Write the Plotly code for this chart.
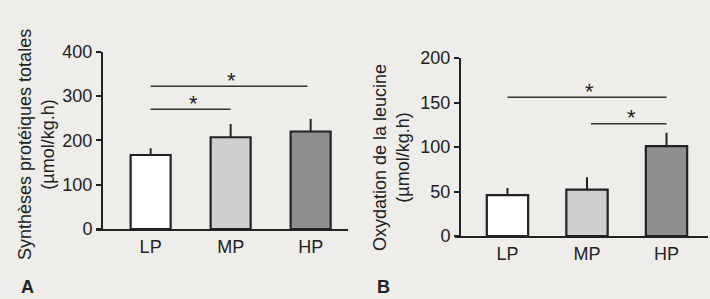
import plotly.graph_objects as go

# ---- data ----
categories = ["LP", "MP", "HP"]
synth_values = [167, 207, 220]          # Synthèses protéiques totales (µmol/kg.h)
synth_err = [15, 30, 28]
oxid_values = [46, 52, 101]             # Oxydation de la leucine (µmol/kg.h)
oxid_err = [8, 14, 15]
bar_colors = ["#ffffff", "#cfcfcf", "#8f8f8f"]
synth_ticks = [0, 100, 200, 300, 400]
oxid_ticks = [0, 50, 100, 150, 200]
# significance brackets: (from index, to index, y value)
synth_sig = [(0, 1, 270), (0, 1.96, 322)]
oxid_sig = [(0, 2, 156), (1.05, 2, 126)]

W, H = 710, 299
BG = "#eeede9"
INK = "#222222"
FONT = "Liberation Sans, Arial, sans-serif"

fig = go.Figure()

def px_x(p):
    return p / W

def px_y(p):
    return (H - p) / H

err_common = dict(type="data", symmetric=False, arrayminus=[0, 0, 0],
                  color=INK, thickness=2, width=0)

fig.add_trace(go.Bar(
    x=categories, y=synth_values, width=0.5,
    marker=dict(color=bar_colors, line=dict(color=INK, width=2.2)),
    error_y=dict(array=synth_err, **err_common),
    xaxis="x", yaxis="y", showlegend=False,
))
fig.add_trace(go.Bar(
    x=categories, y=oxid_values, width=0.52,
    marker=dict(color=bar_colors, line=dict(color=INK, width=2.2)),
    error_y=dict(array=oxid_err, **err_common),
    xaxis="x2", yaxis="y2", showlegend=False,
))

axis_font = dict(family=FONT, size=18, color=INK)

fig.update_layout(
    xaxis=dict(domain=[px_x(96), px_x(348)], range=[-0.683, 2.467],
               type="category", showline=True, linecolor=INK, linewidth=2,
               showgrid=False, zeroline=False, ticks="", tickfont=axis_font,
               anchor="y", fixedrange=True, automargin=False),
    yaxis=dict(domain=[px_y(229), px_y(51.7)], range=[0, 400],
               tickvals=synth_ticks, showline=True, linecolor=INK, linewidth=2,
               showgrid=False, zeroline=False, ticks="outside", ticklen=5,
               tickwidth=2, tickcolor=INK, tickfont=axis_font,
               anchor="free", position=px_x(102), fixedrange=True, automargin=False),
    xaxis2=dict(domain=[px_x(455), px_x(708)], range=[-0.660, 2.522],
                type="category", showline=True, linecolor=INK, linewidth=2,
                showgrid=False, zeroline=False, ticks="", tickfont=axis_font,
                anchor="y2", fixedrange=True, automargin=False),
    yaxis2=dict(domain=[px_y(236), px_y(58)], range=[0, 200],
                tickvals=oxid_ticks, showline=True, linecolor=INK, linewidth=2,
                showgrid=False, zeroline=False, ticks="outside", ticklen=5,
                tickwidth=2, tickcolor=INK, tickfont=axis_font,
                anchor="free", position=px_x(460), fixedrange=True, automargin=False),
)

shapes = []
annotations = []
for (a, b, yv) in synth_sig:
    shapes.append(dict(type="line", xref="x", yref="y", x0=a, x1=b, y0=yv, y1=yv,
                       line=dict(color="#333333", width=1.5)))
    annotations.append(dict(xref="x", yref="y", x=(a + b) / 2 + 0.03, y=yv, text="*",
                            showarrow=False, yanchor="middle", yshift=6,
                            font=dict(family=FONT, size=22, color=INK)))
for (a, b, yv) in oxid_sig:
    shapes.append(dict(type="line", xref="x2", yref="y2", x0=a, x1=b, y0=yv, y1=yv,
                       line=dict(color="#333333", width=1.5)))
    annotations.append(dict(xref="x2", yref="y2", x=(a + b) / 2 + 0.03, y=yv, text="*",
                            showarrow=False, yanchor="middle", yshift=6,
                            font=dict(family=FONT, size=22, color=INK)))

# axis titles (two lines, rotated)
annotations.append(dict(xref="paper", yref="paper", x=px_x(36), y=px_y(145),
                        text="Synthèses protéiques totales<br>(µmol/kg.h)",
                        textangle=-90, showarrow=False, xanchor="center", yanchor="middle",
                        font=dict(family=FONT, size=18, color=INK)))
annotations.append(dict(xref="paper", yref="paper", x=px_x(391), y=px_y(158),
                        text="Oxydation de la leucine<br>(µmol/kg.h)",
                        textangle=-90, showarrow=False, xanchor="center", yanchor="middle",
                        font=dict(family=FONT, size=18, color=INK)))
# panel letters
annotations.append(dict(xref="paper", yref="paper", x=px_x(27), y=0,
                        text="<b>A</b>", showarrow=False, xanchor="center", yanchor="bottom",
                        font=dict(family=FONT, size=18, color=INK)))
annotations.append(dict(xref="paper", yref="paper", x=px_x(384), y=0,
                        text="<b>B</b>", showarrow=False, xanchor="center", yanchor="bottom",
                        font=dict(family=FONT, size=18, color=INK)))

fig.update_layout(
    width=W, height=H, margin=dict(l=0, r=0, t=0, b=0),
    paper_bgcolor=BG, plot_bgcolor="rgba(0,0,0,0)",
    shapes=shapes, annotations=annotations, bargap=0,
    font=dict(family=FONT, color=INK),
)

fig.write_html(
    "out.html",
    config={"displayModeBar": False, "staticPlot": True},
    post_script="document.body.style.margin='0px';document.body.style.padding='0px';"
                "document.body.style.background='" + BG + "';",
)
